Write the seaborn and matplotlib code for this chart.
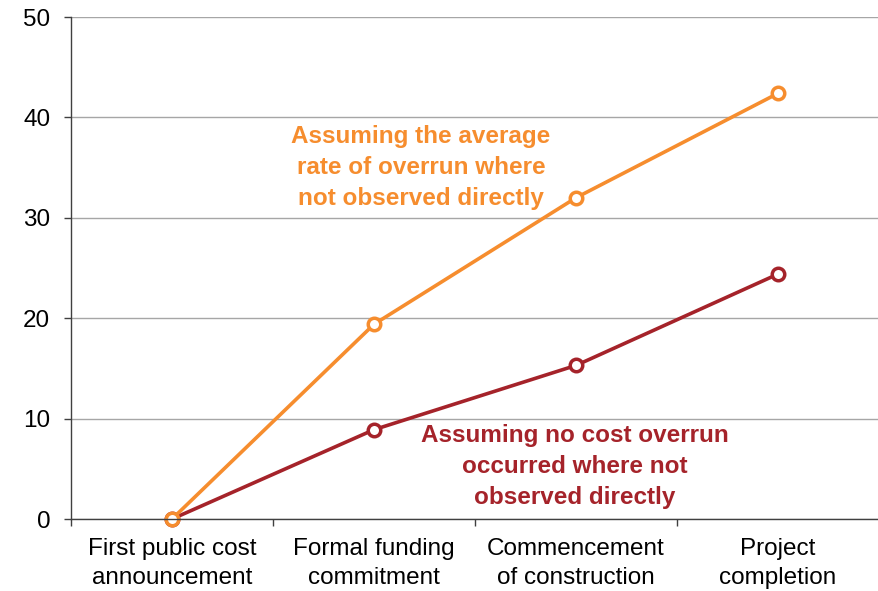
import numpy as np
import pandas as pd
import seaborn as sns
import matplotlib.pyplot as plt
from matplotlib.ticker import FixedLocator, NullFormatter

sns.set_style("white")
plt.rcParams['font.family'] = ['Liberation Sans', 'DejaVu Sans']

# Данные
stages = ['First public cost\nannouncement', 'Formal funding\ncommitment',
          'Commencement\nof construction', 'Project\ncompletion']
average_rate = [0, 19.4, 32.0, 42.4]
no_overrun = [0, 8.9, 15.3, 24.4]
orange = '#F68D2E'
darkred = '#A5232A'

data = pd.DataFrame({
    'pos': list(range(len(stages))) * 2,
    'value': average_rate + no_overrun,
    'series': ['avg'] * len(stages) + ['none'] * len(stages),
})

fig = plt.figure(figsize=(8.79, 5.91), dpi=100)
ax = fig.add_axes([0.0808, 0.1218, 0.9192, 0.8494])

ax.yaxis.grid(True, color='#A6A6A6', linewidth=1)
ax.set_axisbelow(True)

sns.lineplot(data=data, x='pos', y='value', hue='series', hue_order=['none', 'avg'],
             palette={'avg': orange, 'none': darkred}, marker='o', markersize=9,
             markerfacecolor='white', markeredgewidth=2.5, linewidth=2.6,
             legend=False, ax=ax)
# маркеры в цвет линии
for line in ax.get_lines():
    line.set_markeredgecolor(line.get_color())
    line.set_clip_on(False)

ax.set_xlim(-0.5, 3.5)
ax.set_ylim(0, 50)
ax.set_yticks(range(0, 51, 10))
ax.set_xticks(range(len(stages)))
ax.set_xticklabels(stages, fontsize=17.5, linespacing=1.4)
ax.xaxis.set_minor_locator(FixedLocator([-0.5, 0.5, 1.5, 2.5, 3.5]))
ax.xaxis.set_minor_formatter(NullFormatter())
ax.tick_params(axis='x', which='major', bottom=True, length=0, pad=14, labelcolor='black')
ax.tick_params(axis='x', which='minor', bottom=True, length=5, width=1,
               color='#404040', direction='out')
ax.tick_params(axis='y', left=True, length=5, width=1, color='#404040', direction='out',
               labelsize=17.5, pad=10, labelcolor='black')
ax.set_xlabel('')
ax.set_ylabel('')

for side in ['top', 'right']:
    ax.spines[side].set_visible(False)
for side in ['left', 'bottom']:
    ax.spines[side].set_color('#404040')
    ax.spines[side].set_linewidth(1)

ax.text(1.233, 35.0, 'Assuming the average\nrate of overrun where\nnot observed directly',
        color=orange, fontsize=17.5, fontweight='bold', ha='center', va='center',
        linespacing=1.45)
ax.text(1.995, 5.2, 'Assuming no cost overrun\noccurred where not\nobserved directly',
        color=darkred, fontsize=17.5, fontweight='bold', ha='center', va='center',
        linespacing=1.45)

plt.savefig('out.png', dpi=100)
